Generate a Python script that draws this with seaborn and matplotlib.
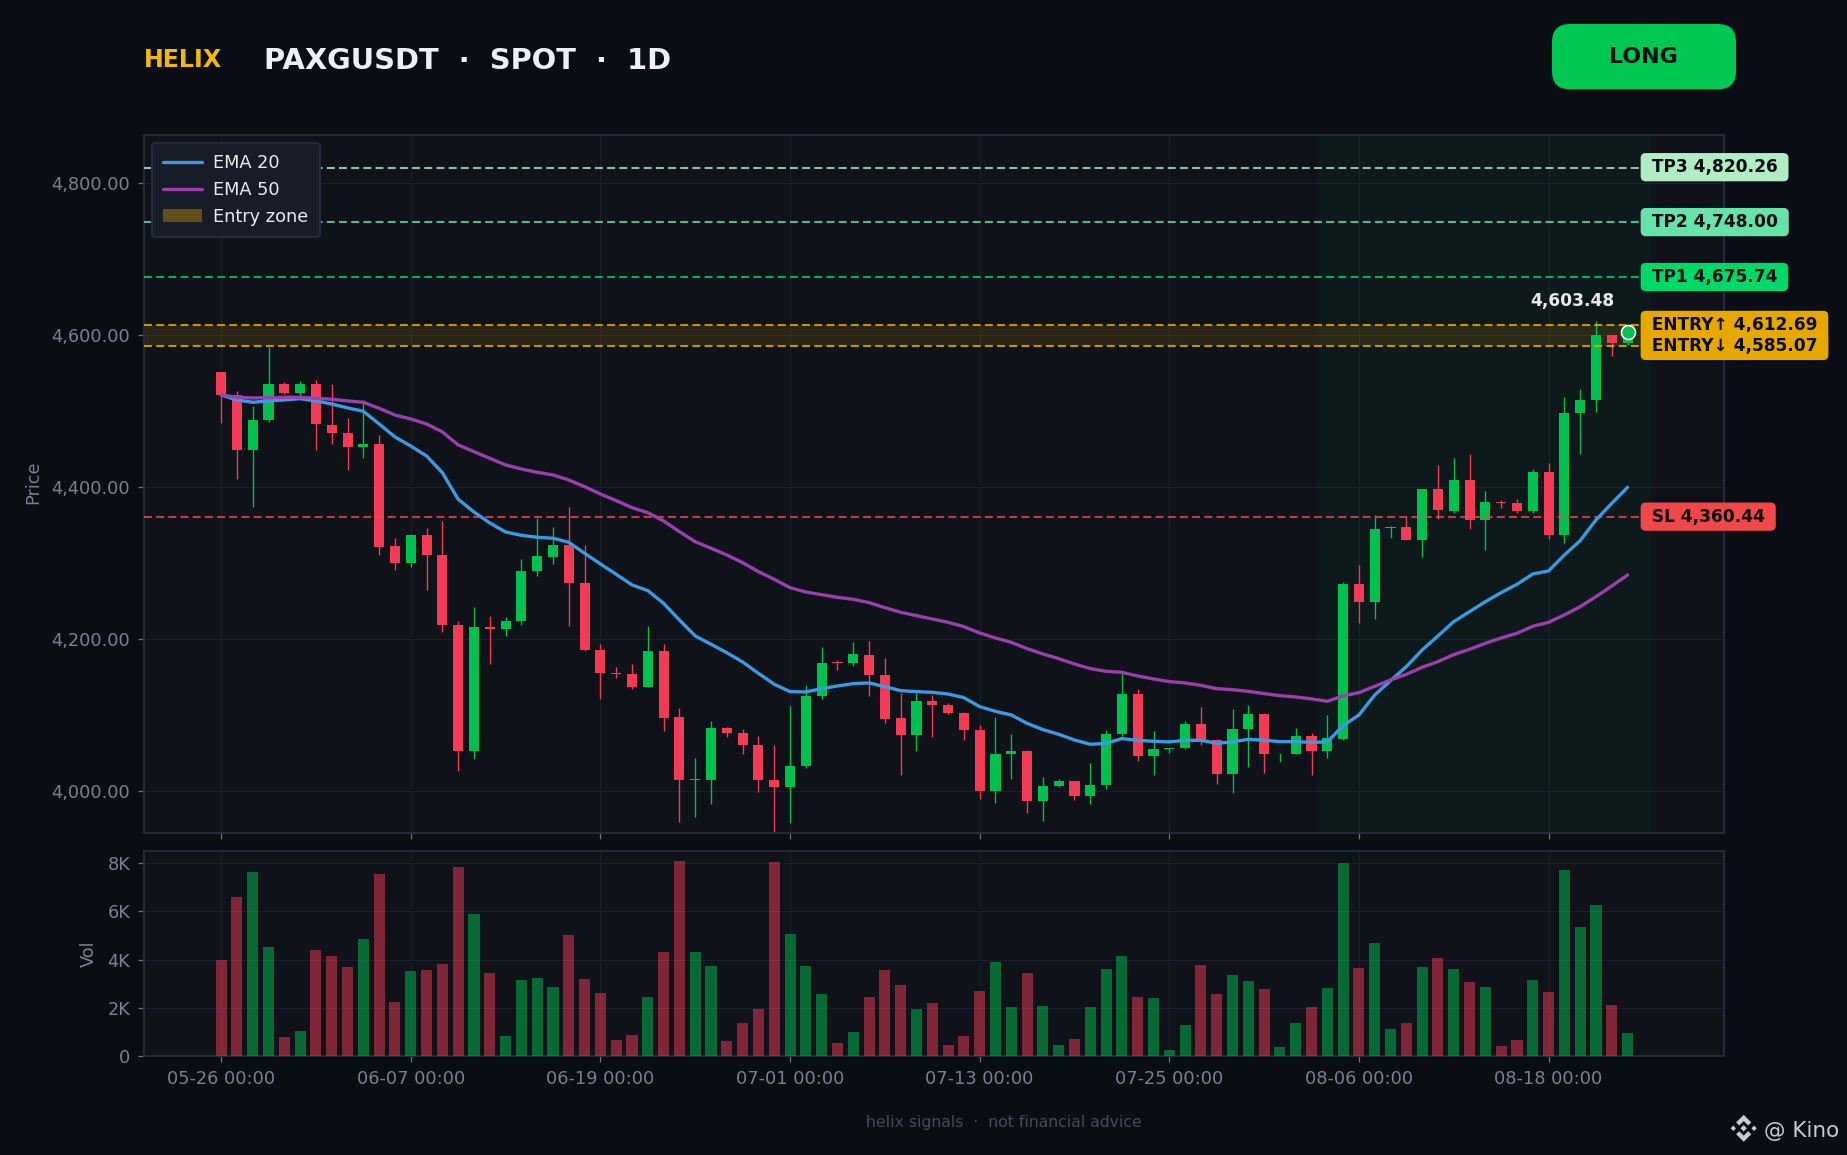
import matplotlib
matplotlib.use("Agg")
import numpy as np
import pandas as pd
import seaborn as sns
import matplotlib.pyplot as plt
from matplotlib.patches import FancyBboxPatch, Patch, Polygon
from matplotlib.ticker import FuncFormatter
from matplotlib.transforms import IdentityTransform

# candles, one entry per day from 05-26
opens = [4551.3, 4521.1, 4448.7, 4488.2, 4535.5, 4523.7, 4535.5, 4481.6, 4471.1, 4452.6,
         4456.6, 4322.4, 4300.0, 4336.8, 4310.5, 4218.4, 4052.6, 4215.8, 4213.2, 4223.7,
         4289.5, 4307.9, 4323.7, 4273.7, 4185.5, 4155.3, 4153.9, 4136.8, 4184.2, 4097.4,
         4014.5, 4014.5, 4082.9, 4076.3, 4060.5, 4014.5, 4005.3, 4032.9, 4125.0, 4169.7,
         4168.4, 4178.9, 4152.6, 4096.1, 4073.7, 4118.4, 4113.2, 4102.6, 4080.3, 4000.0,
         4048.7, 4052.6, 3986.8, 4006.6, 4013.2, 3993.4, 4007.9, 4075.0, 4127.6, 4046.1,
         4055.3, 4056.6, 4088.2, 4067.1, 4022.4, 4081.6, 4101.3, 4049.6, 4048.7, 4072.4,
         4052.6, 4068.4, 4272.4, 4248.7, 4346.0, 4347.4, 4330.3, 4397.4, 4368.4, 4409.2,
         4356.6, 4380.3, 4378.9, 4368.4, 4419.7, 4336.8, 4497.4, 4514.5, 4600.0, 4589.5]
highs = [4551.3, 4526.3, 4506.6, 4584.7, 4538.2, 4539.5, 4540.8, 4535.5, 4490.8, 4514.5,
         4468.4, 4332.9, 4338.2, 4346.0, 4355.3, 4223.7, 4242.1, 4230.3, 4228.9, 4305.3,
         4359.2, 4347.4, 4373.7, 4323.7, 4193.4, 4163.2, 4167.1, 4217.1, 4193.4, 4109.2,
         4043.4, 4092.1, 4084.2, 4081.6, 4072.4, 4060.5, 4111.8, 4139.5, 4189.5, 4172.4,
         4196.1, 4197.4, 4175.0, 4128.9, 4128.9, 4126.3, 4115.8, 4103.9, 4086.8, 4097.4,
         4075.0, 4053.9, 4018.4, 4015.8, 4013.2, 4036.8, 4080.3, 4155.3, 4134.2, 4078.9,
         4056.6, 4092.1, 4110.5, 4068.4, 4107.9, 4113.2, 4102.6, 4050.0, 4082.9, 4076.3,
         4100.0, 4275.0, 4297.4, 4363.2, 4348.7, 4360.5, 4397.4, 4429.0, 4438.2, 4443.4,
         4394.7, 4382.9, 4384.2, 4423.7, 4431.6, 4518.4, 4529.0, 4618.4, 4600.0, 4607.0]
lows = [4484.2, 4410.5, 4373.7, 4485.5, 4522.4, 4519.7, 4448.7, 4456.6, 4422.4, 4438.2,
        4310.5, 4290.8, 4294.7, 4264.5, 4209.2, 4026.3, 4042.1, 4167.1, 4203.9, 4218.4,
        4282.9, 4298.7, 4217.1, 4184.2, 4121.1, 4148.7, 4134.2, 4136.8, 4078.9, 3959.2,
        3965.8, 3982.9, 4071.1, 4048.7, 3998.7, 3946.1, 3957.9, 4030.3, 4121.1, 4159.2,
        4164.5, 4125.0, 4089.5, 4021.1, 4052.6, 4071.1, 4101.3, 4067.1, 3989.5, 3984.2,
        4015.8, 3971.1, 3960.5, 4005.3, 3988.2, 3982.9, 4002.6, 4072.4, 4039.5, 4021.1,
        4050.0, 4055.3, 4060.5, 4009.2, 3997.4, 4031.6, 4023.7, 4038.2, 4048.7, 4021.1,
        4043.8, 4067.1, 4221.1, 4226.3, 4332.9, 4330.3, 4307.9, 4357.9, 4365.8, 4344.7,
        4317.1, 4372.4, 4365.8, 4365.8, 4331.6, 4326.3, 4443.4, 4498.7, 4572.4, 4586.8]
closes = [4521.1, 4448.7, 4488.2, 4535.5, 4523.7, 4535.5, 4482.9, 4471.1, 4452.6, 4456.6,
          4321.1, 4300.0, 4336.8, 4310.5, 4218.4, 4052.6, 4215.8, 4213.2, 4223.7, 4289.5,
          4309.2, 4323.7, 4273.7, 4185.5, 4155.3, 4153.9, 4136.8, 4184.2, 4096.1, 4014.5,
          4015.8, 4082.9, 4076.3, 4060.5, 4014.5, 4005.3, 4032.9, 4125.0, 4168.4, 4168.4,
          4180.3, 4152.6, 4094.7, 4073.7, 4118.4, 4113.2, 4102.6, 4080.3, 4000.0, 4048.7,
          4052.6, 3986.8, 4006.6, 4013.2, 3993.4, 4007.9, 4075.0, 4127.6, 4046.1, 4055.3,
          4056.6, 4088.2, 4067.1, 4022.4, 4081.6, 4101.3, 4048.7, 4050.0, 4072.4, 4052.6,
          4070.0, 4272.4, 4248.7, 4344.7, 4347.4, 4330.3, 4397.4, 4369.7, 4409.2, 4356.6,
          4380.3, 4378.9, 4368.4, 4419.7, 4336.8, 4497.4, 4514.5, 4600.0, 4589.5, 4603.48]
ema20 = [4521.1, 4514.5, 4511.4, 4513.2, 4514.5, 4516.2, 4513.2, 4509.2, 4504.0, 4499.6,
         4482.9, 4465.8, 4453.9, 4440.8, 4418.9, 4383.8, 4367.1, 4352.6, 4340.8, 4336.4,
         4333.8, 4332.5, 4327.2, 4312.7, 4298.7, 4285.1, 4271.1, 4263.6, 4246.9, 4225.0,
         4204.0, 4193.0, 4182.0, 4169.7, 4154.8, 4140.4, 4130.7, 4130.3, 4134.6, 4138.2,
         4141.2, 4142.1, 4137.3, 4132.0, 4130.7, 4129.8, 4127.6, 4122.8, 4111.0, 4104.8,
         4100.0, 4089.0, 4080.7, 4074.6, 4067.1, 4061.4, 4062.7, 4068.9, 4066.7, 4065.4,
         4064.5, 4066.7, 4066.7, 4062.7, 4064.5, 4068.0, 4066.7, 4064.9, 4064.9, 4064.0,
         4064.5, 4086.0, 4100.0, 4126.3, 4145.2, 4163.6, 4185.5, 4204.0, 4222.8, 4236.0,
         4249.1, 4261.0, 4271.9, 4285.5, 4289.5, 4310.5, 4329.4, 4356.6, 4378.5, 4399.6]
ema50 = [4521.1, 4518.0, 4517.1, 4517.5, 4518.0, 4518.0, 4516.7, 4515.4, 4513.2, 4511.4,
         4503.5, 4494.7, 4489.5, 4482.9, 4472.4, 4455.3, 4446.5, 4437.7, 4429.0, 4423.7,
         4419.3, 4415.8, 4409.2, 4400.4, 4390.8, 4382.0, 4372.8, 4366.2, 4355.3, 4341.2,
         4328.0, 4319.3, 4310.5, 4300.4, 4288.6, 4278.5, 4267.5, 4261.8, 4258.3, 4254.8,
         4252.2, 4247.8, 4241.2, 4235.1, 4230.7, 4226.3, 4221.9, 4216.2, 4207.9, 4201.3,
         4195.6, 4187.3, 4180.3, 4174.1, 4167.1, 4161.0, 4157.5, 4156.1, 4151.3, 4147.4,
         4143.9, 4142.1, 4139.0, 4134.6, 4133.3, 4131.1, 4128.1, 4125.4, 4123.7, 4121.1,
         4118.0, 4125.0, 4129.4, 4137.7, 4146.1, 4153.5, 4162.7, 4170.2, 4179.4, 4186.4,
         4194.3, 4201.3, 4207.5, 4216.7, 4221.9, 4231.6, 4242.5, 4255.7, 4269.7, 4284.2]
volumes = [3986, 6602, 7640, 4526, 789, 1038, 4401, 4152, 3695, 4858,
           7557, 2242, 3529, 3571, 3820, 7847, 5896, 3446, 830, 3156,
           3239, 2865, 5024, 3197, 2616, 664, 872, 2450, 4318, 8096,
           4318, 3737, 623, 1370, 1951, 8055, 5065, 3737, 2574, 540,
           996, 2450, 3571, 2948, 1951, 2200, 457, 830, 2699, 3903,
           2034, 3446, 2076, 457, 706, 2034, 3612, 4152, 2450, 2408,
           249, 1287, 3778, 2574, 3363, 3114, 2782, 374, 1370, 2034,
           2823, 8013, 3654, 4692, 1121, 1370, 3695, 4069, 3612, 3072,
           2865, 415, 664, 3156, 2657, 7723, 5356, 6270, 2118, 955]
vol_up = [0, 0, 1, 1, 0, 1, 0, 0, 0, 1, 0, 0, 1, 0, 0, 0, 1, 0, 1, 1,
          1, 1, 0, 0, 0, 0, 0, 1, 0, 0, 1, 1, 0, 0, 0, 0, 1, 1, 1, 0,
          1, 0, 0, 0, 1, 0, 0, 0, 0, 1, 1, 0, 1, 1, 0, 1, 1, 1, 0, 1,
          1, 1, 0, 0, 1, 1, 0, 1, 1, 0, 1, 1, 0, 1, 1, 0, 1, 0, 1, 0,
          1, 0, 0, 1, 0, 1, 1, 1, 0, 1]

tick_pos = [0, 12, 24, 36, 48, 60, 72, 84]
tick_labels = ["05-26 00:00", "06-07 00:00", "06-19 00:00", "07-01 00:00",
               "07-13 00:00", "07-25 00:00", "08-06 00:00", "08-18 00:00"]
price_ticks = [4000, 4200, 4400, 4600, 4800]
vol_ticks = [0, 2000, 4000, 6000, 8000]

tp3, tp2, tp1 = 4820.26, 4748.00, 4675.74
entry_hi, entry_lo = 4612.69, 4585.07
stop = 4360.44
last_price = 4603.48

BG = "#0a0d14"
PANEL = "#0f1219"
GRID = "#1a1e2c"
EDGE = "#252a3a"
MUTED = "#7a8090"
GREEN = "#00c04f"
RED = "#f43b55"
AMBER = "#e6a800"
DARK = "#0a0d14"

sns.set_theme(style="dark", rc={
    "figure.facecolor": BG, "axes.facecolor": PANEL, "savefig.facecolor": BG,
    "axes.edgecolor": EDGE, "axes.linewidth": 1.0,
    "grid.color": GRID, "grid.linewidth": 0.6,
    "xtick.color": "#6b7280", "ytick.color": "#6b7280",
    "xtick.labelcolor": MUTED, "ytick.labelcolor": MUTED,
    "text.color": "#e8eaf0", "axes.labelcolor": MUTED,
    "xtick.bottom": True, "ytick.left": True,
})
plt.rcParams["font.family"] = "DejaVu Sans"

df = pd.DataFrame({"idx": np.arange(len(opens)), "open": opens, "high": highs, "low": lows,
                   "close": closes, "ema20": ema20, "ema50": ema50, "vol": volumes})
df["side"] = ["up" if u else "down" for u in vol_up]
up = df["close"] >= df["open"]
colors = np.where(up, GREEN, RED)

W, H = 1847, 1155
fig = plt.figure(figsize=(W / 150, H / 150), dpi=150)


def px_rect(left, top, right, bottom):
    return [left / W, 1 - bottom / H, (right - left) / W, (bottom - top) / H]


ax = fig.add_axes(px_rect(143.7, 134.7, 1724, 833))
ax_vol = fig.add_axes(px_rect(143.7, 850.7, 1724, 1056))

# price panel
ax.axvspan(69.5, 90.5, color="#00c853", alpha=0.045, lw=0, zorder=1)
ax.fill_between([-4.9, 90.4], entry_lo, entry_hi, color=AMBER, alpha=0.13, lw=0, zorder=1)
ax.vlines(df["idx"], df["low"], df["high"], colors=colors, lw=0.65, zorder=2)
ax.bar(df["idx"], (df["close"] - df["open"]).abs().clip(lower=1.0),
       bottom=df[["open", "close"]].min(axis=1), width=0.64, color=colors, lw=0, zorder=3)

sns.lineplot(data=df, x="idx", y="ema20", color="#3b9ae1", lw=1.6, ax=ax, zorder=5, label="EMA 20")
sns.lineplot(data=df, x="idx", y="ema50", color="#9b3fae", lw=1.6, ax=ax, zorder=5, label="EMA 50")

levels = [(tp3, "TP3 4,820.26", "#b0edc4", 0.8), (tp2, "TP2 4,748.00", "#66e3a8", 0.8),
          (tp1, "TP1 4,675.74", "#00d868", 0.8), (entry_hi, "ENTRY↑ 4,612.69", AMBER, 0.85),
          (entry_lo, "ENTRY↓ 4,585.07", AMBER, 0.85), (stop, "SL 4,360.44", "#f04848", 0.8)]
for value, text, col, a in levels:
    ax.plot([-4.9, 90.4], [value, value], color=col, lw=1.0, alpha=a,
            ls=(0, (3.8, 2.05)), zorder=4)
    ax.text(90.15, value + 0.5, f" {text} ", ha="left", va="center", fontsize=8.2, fontweight="bold",
            color=DARK, clip_on=False, zorder=7,
            bbox=dict(boxstyle="round,pad=0.3", fc=col, ec="none"))

ax.scatter([df["idx"].iloc[-1]], [last_price], s=45, color=GREEN, edgecolor="white", lw=0.8, zorder=8)
ax.text(85.5, 4644.5, "4,603.48", ha="center", va="center", fontsize=8.2, fontweight="bold", color="#e8eaf0")

ax.set_ylim(3944.7, 4863.5)
ax.set_yticks(price_ticks)
ax.yaxis.set_major_formatter(FuncFormatter(lambda v, _: f"{v:,.2f}"))
ax.set_xticks(tick_pos)
ax.set_xticklabels([])
ax.set_xlabel("")
ax.set_ylabel("Price", fontsize=8.5)
ax.yaxis.set_label_coords((42 - 143.7) / 1580.3, 0.503)
ax.tick_params(axis="both", labelsize=8.5, length=3, width=0.6)
ax.grid(True, zorder=0)
ax.set_axisbelow(True)

handles, labels = ax.get_legend_handles_labels()
handles.append(Patch(facecolor=AMBER, alpha=0.36, lw=0, label="Entry zone"))
labels.append("Entry zone")
leg = ax.legend(handles, labels, loc="upper left", fontsize=8.5, frameon=True, framealpha=1,
                facecolor="#181c28", edgecolor=EDGE, handlelength=2.2, handletextpad=0.6,
                labelspacing=0.5, borderpad=0.65, borderaxespad=0.45, labelcolor="#e8eaf0")
leg.set_zorder(10)

# volume panel
sns.barplot(data=df, x="idx", y="vol", hue="side", palette={"up": GREEN, "down": RED},
            dodge=False, native_scale=True, width=0.7, alpha=0.5, saturation=1,
            errorbar=None, legend=False, ax=ax_vol, zorder=3, linewidth=0, edgecolor="none")
ax_vol.set_ylim(0, 8520)
ax_vol.set_yticks(vol_ticks)
ax_vol.yaxis.set_major_formatter(FuncFormatter(lambda v, _: "0" if v == 0 else f"{v / 1000:.0f}K"))
ax_vol.set_xticks(tick_pos)
ax_vol.set_xticklabels(tick_labels)
ax_vol.set_xlabel("")
ax_vol.set_ylabel("Vol", fontsize=8.5)
ax_vol.yaxis.set_label_coords((97.5 - 143.7) / 1580.3, 0.5)
ax_vol.tick_params(axis="both", labelsize=8.5, length=3, width=0.6)
ax_vol.grid(True, zorder=0)
ax_vol.set_axisbelow(True)

for a in (ax, ax_vol):
    a.set_xlim(-4.9, 95.1)
    for s in a.spines.values():
        s.set_color(EDGE)
        s.set_linewidth(1.0)

# header
fig.text(143.5 / W, 1 - 60 / H, "HELIX", color="#f0b90b", fontsize=11.4, fontweight="bold", va="center")
fig.text(264 / W, 1 - 61 / H, "PAXGUSDT  ·  SPOT  ·  1D", color="#eef0f6", fontsize=13.85,
         fontweight="bold", va="center")
fig.add_artist(FancyBboxPatch((1552, H - 89.3), 184, 65.3, boxstyle="round,pad=0,rounding_size=18",
                              fc="#00c853", ec="none", transform=IdentityTransform()))
fig.text(1643 / W, 1 - 57 / H, "LONG", color=DARK, fontsize=10.6, fontweight="bold", ha="center", va="center")

# footer and watermark
fig.text(1003.6 / W, 1 - 1122.6 / H, "helix signals  ·  not financial advice", color="#454a5a",
         fontsize=7.5, ha="center", va="center")
logo_col = "#c8cbd2"
cx, cy, r = 1743.7, H - 1128.3, 13.5
shapes = [[(0, 1), (.56, .44), (.33, .21), (0, .54), (-.33, .21), (-.56, .44)],
          [(0, -1), (.56, -.44), (.33, -.21), (0, -.54), (-.33, -.21), (-.56, -.44)],
          [(0, .24), (.24, 0), (0, -.24), (-.24, 0)],
          [(-.77, .2), (-.57, 0), (-.77, -.2), (-.97, 0)],
          [(.77, .2), (.97, 0), (.77, -.2), (.57, 0)]]
for pts in shapes:
    fig.add_artist(Polygon([(cx + r * x, cy + r * y) for x, y in pts], closed=True, fc=logo_col,
                           ec="none", transform=IdentityTransform()))
fig.text(1764 / W, 1 - 1131 / H, "@ Kino", color=logo_col, fontsize=10.3, ha="left", va="center")

fig.savefig("out.png", dpi=150)
